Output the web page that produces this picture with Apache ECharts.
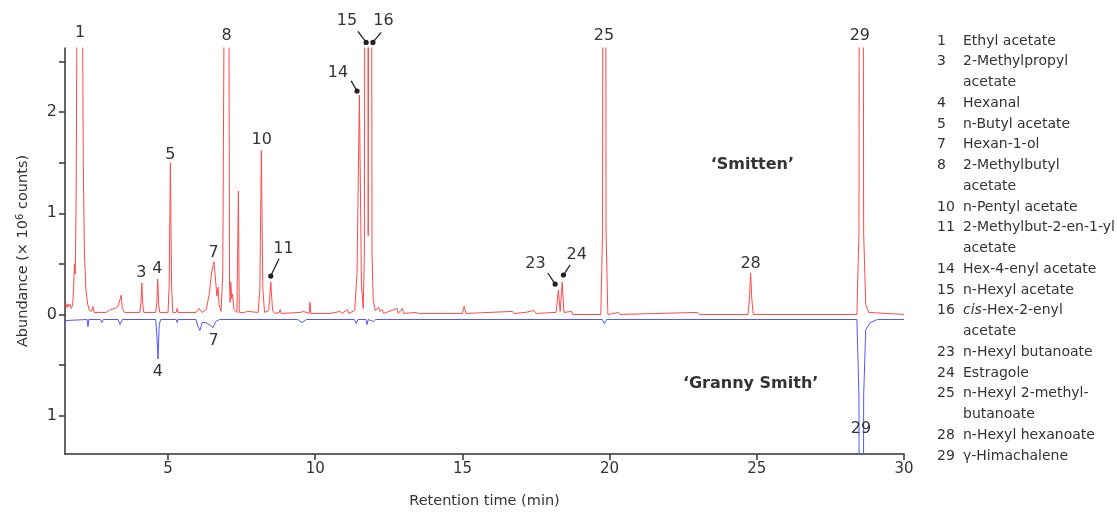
<!DOCTYPE html>
<html>
<head>
<meta charset="utf-8">
<script src="https://cdn.jsdelivr.net/npm/echarts@6/dist/echarts.min.js"></script>
<style>html,body{margin:0;padding:0;background:#fff;overflow:hidden}#c{width:1117px;height:514px}</style>
</head>
<body>
<div id="c"></div>
<script>
// ---- Data ----
const smittenTime = [1.50,1.53,1.57,1.60,1.63,1.67,1.71,1.76,1.79,1.82,1.85,1.88,1.92,2.00,2.08,2.12,2.16,2.21,2.27,2.33,2.40,2.45,2.49,2.90,3.05,3.20,3.30,3.37,3.41,3.45,3.52,4.04,4.08,4.11,4.14,4.18,4.58,4.62,4.65,4.68,4.72,5.00,5.04,5.08,5.12,5.16,5.28,5.31,5.34,5.95,6.05,6.15,6.30,6.40,6.48,6.56,6.62,6.66,6.70,6.73,6.80,6.86,6.92,6.99,7.06,7.09,7.11,7.13,7.16,7.19,7.24,7.34,7.39,7.42,7.60,7.70,8.06,8.12,8.17,8.22,8.28,8.42,8.49,8.55,8.62,8.78,8.81,8.84,9.50,9.60,9.79,9.82,9.85,10.5,10.85,10.9,11.1,11.14,11.34,11.42,11.50,11.57,11.63,11.67,11.735,11.80,11.865,11.93,11.97,12.03,12.15,12.2,12.27,12.33,12.78,12.82,12.96,13.0,13.43,13.5,15.0,15.06,15.12,16.7,16.75,17.15,17.43,17.5,18.18,18.26,18.32,18.39,18.45,18.71,18.75,19.70,19.76,19.82,19.88,19.94,20.3,20.35,22.98,23.05,24.70,24.75,24.79,24.83,24.88,28.40,28.47,28.55,28.63,28.70,28.80,30.0];
const smittenAbund = [0.08,0.11,0.07,0.10,0.08,0.10,0.06,0.09,0.25,0.50,0.40,1.2,4.0,9.0,4.0,1.5,0.6,0.25,0.10,0.04,0.03,0.08,0.02,0.02,0.05,0.06,0.08,0.15,0.19,0.06,0.02,0.02,0.12,0.31,0.10,0.02,0.02,0.12,0.35,0.10,0.02,0.02,0.30,1.50,0.30,0.02,0.02,0.06,0.02,0.02,0.06,0.02,0.05,0.20,0.42,0.52,0.32,0.18,0.27,0.10,0.03,0.40,4.0,14,4.0,0.3,0.12,0.32,0.16,0.20,0.05,0.02,1.22,0.02,0.02,0.03,0.02,0.25,1.62,0.25,0.02,0.04,0.32,0.04,0.01,0.02,0.05,0.01,0.02,0.03,0.01,0.12,0.01,0.01,0.03,0.01,0.05,0.01,0.04,0.40,2.17,0.30,0.06,0.6,16,0.78,14,0.6,0.15,0.04,0.07,0.03,0.05,0.01,0.06,0.01,0.06,0.01,0.02,0.01,0.01,0.08,0.01,0.03,0.01,0.02,0.04,0.01,0.02,0.24,0.03,0.32,0.02,0.03,0.0,0.0,0.8,16,0.8,0.0,0.02,0.0,0.02,0.0,0.0,0.15,0.41,0.15,0.0,0.0,0.8,16,0.8,0.1,0.02,0.0];

const grannyTime = [1.50,1.53,2.25,2.28,2.31,2.70,2.75,2.80,3.30,3.37,3.45,4.58,4.62,4.66,4.70,4.75,5.28,5.31,5.34,5.95,6.02,6.08,6.16,6.28,6.45,6.53,6.62,6.75,9.40,9.55,9.70,11.33,11.39,11.45,11.72,11.76,11.80,11.98,12.05,19.75,19.82,19.90,28.40,28.47,28.55,28.63,28.70,28.85,29.1,30.0];
const grannyAbund = [-0.10,-0.06,-0.05,-0.12,-0.05,-0.05,-0.08,-0.05,-0.05,-0.10,-0.05,-0.05,-0.20,-0.44,-0.10,-0.05,-0.05,-0.08,-0.05,-0.05,-0.12,-0.16,-0.08,-0.08,-0.11,-0.13,-0.07,-0.05,-0.05,-0.08,-0.05,-0.05,-0.09,-0.05,-0.05,-0.10,-0.05,-0.07,-0.05,-0.05,-0.09,-0.05,-0.05,-0.8,-16,-0.8,-0.15,-0.08,-0.05,-0.05];

const xTickValues = [5,10,15,20,25,30];
const yLabelValues = [-1,0,1,2];
const yTickValues = [-1,-0.5,0,0.5,1,1.5,2,2.5];

// peak labels (placed in data units); lt/lv..dt/dv = leader line from label to dot
const peakLabels = [
  {text:'1', t:2.01, v:2.78},
  {text:'3', t:4.09, v:0.41},
  {text:'4', t:4.64, v:0.45},
  {text:'5', t:5.08, v:1.58},
  {text:'7', t:6.55, v:0.61},
  {text:'8', t:6.99, v:2.76},
  {text:'10', t:8.18, v:1.73},
  {text:'11', t:8.92, v:0.65, lt:8.77, lv:0.55, dt:8.49, dv:0.38},
  {text:'14', t:10.77, v:2.39, lt:11.22, lv:2.31, dt:11.42, dv:2.21},
  {text:'15', t:11.08, v:2.90, lt:11.45, lv:2.80, dt:11.73, dv:2.69},
  {text:'16', t:12.32, v:2.90, lt:12.24, lv:2.79, dt:11.96, dv:2.69},
  {text:'23', t:17.48, v:0.50, lt:17.90, lv:0.41, dt:18.15, dv:0.30},
  {text:'24', t:18.88, v:0.59, lt:18.66, lv:0.49, dt:18.43, dv:0.39},
  {text:'25', t:19.81, v:2.76},
  {text:'28', t:24.79, v:0.50},
  {text:'29', t:28.50, v:2.76},
  {text:'4', t:4.65, v:-0.57},
  {text:'7', t:6.55, v:-0.26},
  {text:'29', t:28.54, v:-1.13},
  {text:'\u2018Smitten\u2019', t:24.85, v:1.48, bold:true},
  {text:'\u2018Granny Smith\u2019', t:24.79, v:-0.69, bold:true}
];

const legendNums = ['1','3','4','5','7','8','10','11','14','15','16','23','24','25','28','29'];
const legendNames = ['Ethyl acetate','2-Methylpropyl\nacetate','Hexanal','n-Butyl acetate','Hexan-1-ol','2-Methylbutyl\nacetate','n-Pentyl acetate','2-Methylbut-2-en-1-yl\nacetate','Hex-4-enyl acetate','n-Hexyl acetate','{i|cis}-Hex-2-enyl\nacetate','n-Hexyl butanoate','Estragole','n-Hexyl 2-methyl-\nbutanoate','n-Hexyl hexanoate','\u03b3-Himachalene'];

// ---- Build chart ----
const FONT = 'DejaVu Sans';
const TXT = '#333333';
const zip = (a,b) => a.map((x,i)=>[x,b[i]]);

const graphic = [];
let line = 0;
const LX_NUM = 937, LX_NAME = 963, LY0 = 41, LH = 20.75;
legendNums.forEach((n,i)=>{
  const parts = legendNames[i].split('\n');
  graphic.push({type:'text', x:LX_NUM, y:LY0+line*LH, style:{text:n, fill:TXT, font:'14px "DejaVu Sans"', verticalAlign:'middle'}});
  parts.forEach(p=>{
    graphic.push({type:'text', x:LX_NAME, y:LY0+line*LH, style:{text:p, fill:TXT, font:'14px "DejaVu Sans"', fontSize:14, fontFamily:FONT, verticalAlign:'middle',
      rich:{i:{fontStyle:'italic', fontSize:14, fontFamily:FONT, fill:TXT}}}});
    line++;
  });
});

const chart = echarts.init(document.getElementById('c'), null, {renderer:'canvas'});
chart.setOption({
  animation:false,
  backgroundColor:'#fff',
  grid:{left:65, right:213, top:48, bottom:55, containLabel:false},
  xAxis:{
    type:'value', min:1.5, max:30,
    name:'Retention time (min)', nameLocation:'middle', nameGap:40,
    nameTextStyle:{fontFamily:FONT, fontSize:14.5, color:TXT},
    axisLine:{onZero:false, lineStyle:{color:'#333', width:1.5}},
    axisTick:{show:true, length:6, customValues:xTickValues, lineStyle:{color:'#333', width:1.5}},
    axisLabel:{customValues:xTickValues, fontFamily:FONT, fontSize:15, color:TXT, margin:8},
    splitLine:{show:false}
  },
  yAxis:{
    type:'value', min:-1.38, max:2.635,
    name:'Abundance (\u00d7 10{sup|6} counts)', nameLocation:'middle', nameGap:34, nameRotate:90,
    nameTextStyle:{fontFamily:FONT, fontSize:14.5, color:TXT,
      rich:{sup:{fontFamily:FONT, fontSize:10, color:TXT, verticalAlign:'top', padding:[0,0,6,0]}}},
    axisLine:{show:true, lineStyle:{color:'#333', width:1.5}},
    axisTick:{show:true, length:6, customValues:yTickValues, lineStyle:{color:'#333', width:1.5}},
    axisLabel:{customValues:yLabelValues, fontFamily:FONT, fontSize:16, color:TXT, margin:8, formatter:v=>String(Math.abs(v))},
    splitLine:{show:false}
  },
  graphic: graphic,
  series:[
    {type:'line', name:'Granny Smith', data:zip(grannyTime,grannyAbund), showSymbol:false, symbol:'none', clip:true,
     lineStyle:{color:'#5555ff', width:1}, z:2},
    {type:'line', name:'Smitten', data:zip(smittenTime,smittenAbund), showSymbol:false, symbol:'none', clip:true,
     lineStyle:{color:'#ff4a4a', width:1}, z:3},
    {type:'custom', name:'labels', clip:false, z:10,
     data: peakLabels.map(a=>[a.t,a.v]),
     encode:{x:0,y:1},
     renderItem:function(params, api){
       const a = peakLabels[params.dataIndex];
       const p = api.coord([a.t, a.v]);
       const children = [{type:'text', x:p[0], y:p[1], style:{text:a.text, fill:TXT, align:'center', verticalAlign:'middle',
         font: a.bold ? 'bold 16px "DejaVu Sans"' : '16px "DejaVu Sans"'}}];
       if (a.dt !== undefined) {
         const s = api.coord([a.lt, a.lv]);
         const d = api.coord([a.dt, a.dv]);
         children.push({type:'line', shape:{x1:s[0], y1:s[1], x2:d[0], y2:d[1]}, style:{stroke:'#222', lineWidth:1.3}});
         children.push({type:'circle', shape:{cx:d[0], cy:d[1], r:2.6}, style:{fill:'#222'}});
       }
       return {type:'group', children:children};
     }
    }
  ]
});
</script>
</body>
</html>
